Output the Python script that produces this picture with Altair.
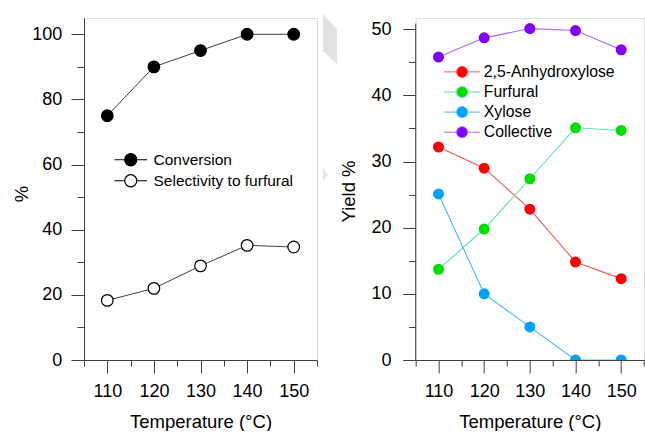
import altair as alt
import pandas as pd

# ---------------- data ----------------
temperature = [110, 120, 130, 140, 150]
conversion = [75.0, 90.0, 95.0, 100.0, 100.0]
selectivity = [18.3, 22.0, 28.9, 35.2, 34.7]

anhydroxylose = [32.2, 29.0, 22.8, 14.8, 12.3]
furfural = [13.7, 19.8, 27.4, 35.1, 34.7]
xylose = [25.1, 10.0, 5.0, 0.0, 0.0]
collective = [45.8, 48.7, 50.1, 49.8, 46.9]

left_names = ["Conversion", "Selectivity to furfural"]
left_fills = ["#000000", "#ffffff"]
right_names = ["2,5-Anhydroxylose", "Furfural", "Xylose", "Collective"]
marker_colors = ["#ff0000", "#00dd00", "#00a2ff", "#8000ff"]
line_colors = ["#ff5555", "#60e0b8", "#4ab8ff", "#a468ff"]

x_ticks = [105, 110, 115, 120, 125, 130, 135, 140, 145, 150, 155]
left_y_ticks = [0, 10, 20, 30, 40, 50, 60, 70, 80, 90, 100]
right_y_ticks = [0, 5, 10, 15, 20, 25, 30, 35, 40, 45, 50]

FONT = "Liberation Sans"
AX = "#404040"
TICK_FS = 18
TITLE_FS = 18.5

left_df = pd.DataFrame({
    "T": temperature * 2,
    "value": conversion + selectivity,
    "series": [left_names[0]] * 5 + [left_names[1]] * 5,
})
right_vals = [anhydroxylose, furfural, xylose, collective]
right_df = pd.DataFrame({
    "T": temperature * 4,
    "value": sum(right_vals, []),
    "series": sum([[n] * 5 for n in right_names], []),
})
deco_df = pd.DataFrame({"k": [0]})


def cond_size(step, major, minor):
    return {"condition": {"test": f"datum.value % {step} == 0", "value": major}, "value": minor}


def x_axis():
    return alt.Axis(
        values=x_ticks, title="Temperature (°C)",
        labelExpr="datum.value % 10 == 0 ? datum.label : ''",
        tickSize=cond_size(10, 13, 6), labelPadding=9, labelBaseline="top",
        labelOverlap=False, labelFlush=False,
        labelFont=FONT, labelFontSize=TICK_FS, labelColor="black",
        titleFont=FONT, titleFontSize=TITLE_FS, titleFontWeight="normal", titleColor="black",
        titleY=67, titleBaseline="alphabetic",
        domainColor=AX, tickColor=AX, domainWidth=1, tickWidth=1, grid=False,
    )


def x_scale():
    return alt.Scale(domain=[105, 155], nice=False, zero=False)


def y_axis(vals, step, title, tx, ty, pad, show_domain=True):
    return alt.Axis(
        values=vals, title=title,
        labelExpr=f"datum.value % {step} == 0 ? datum.label : ''",
        tickSize=cond_size(step, 13, 7), labelPadding=pad,
        labelOverlap=False, labelFlush=False,
        labelFont=FONT, labelFontSize=TICK_FS, labelColor="black",
        titleFont=FONT, titleFontSize=TITLE_FS, titleFontWeight="normal", titleColor="black",
        titleAngle=270, titleAlign="center", titleBaseline="alphabetic",
        titleX=tx, titleY=ty,
        domain=show_domain, domainColor=AX, tickColor=AX, domainWidth=1, tickWidth=1, grid=False,
    )


# ---------------- left panel ----------------
lx = alt.X("T:Q", scale=x_scale(), axis=x_axis())
ly = alt.Y("value:Q", scale=alt.Scale(domain=[0, 105], nice=False),
           axis=y_axis(left_y_ticks, 20, "%", -57, 175.5, 9.3))

left_symbol = "M-2.7,0H-1M1,0H2.7M1,0A1,1,0,1,1,-1,0A1,1,0,1,1,1,0Z"
left_legend = alt.Legend(
    title=None, orient="none", legendX=39, legendY=134, padding=0,
    symbolType=left_symbol, symbolSize=146, symbolStrokeColor="black", symbolStrokeWidth=1.2,
    labelFont=FONT, labelFontSize=15.5, labelColor="black", labelOffset=15, rowPadding=3.0,
)

left_lines = alt.Chart(left_df).mark_line(color=AX, strokeWidth=1).encode(
    x=lx, y=ly, detail="series:N")
left_pts = alt.Chart(left_df).mark_point(
    filled=True, shape="circle", size=135, stroke="black", strokeWidth=1.2, opacity=1
).encode(
    x=lx, y=ly,
    fill=alt.Fill("series:N", scale=alt.Scale(domain=left_names, range=left_fills), legend=left_legend),
)

para_path = "M-0.28,-1L0.28,-0.4L0.28,1L-0.28,0.48Z"
tri_path = "M-0.38,-1L0.38,0L-0.38,1Z"
deco1 = alt.Chart(deco_df).mark_point(
    shape=para_path, size=2500, filled=True, fill="#e2e2e2", opacity=1, strokeWidth=0
).encode(x=alt.value(246), y=alt.value(21))
deco2 = alt.Chart(deco_df).mark_point(
    shape=tri_path, size=169, filled=True, fill="#e6e6e6", opacity=1, strokeWidth=0
).encode(x=alt.value(241.5), y=alt.value(156.5))

left = alt.layer(deco1, deco2, left_lines, left_pts).properties(width=233, height=342)

# ---------------- right panel ----------------
rx = alt.X("T:Q", scale=x_scale(), axis=x_axis())
r_yscale = alt.Scale(domain=[0, 51.7], nice=False)
r_yaxis = y_axis(right_y_ticks, 10, "Yield %", -61, 173, 11.7, show_domain=False)
ry = alt.Y("value:Q", scale=r_yscale, axis=r_yaxis)

right_symbol = "M-3.27,0H-1M1,0H3.27M1,0A1,1,0,1,1,-1,0A1,1,0,1,1,1,0Z"


def right_legend():
    return alt.Legend(
        title=None, orient="none", legendX=38.5, legendY=46, padding=0,
        symbolType=right_symbol, symbolSize=121, symbolStrokeWidth=1,
        labelFont=FONT, labelFontSize=15.8, labelColor="black", labelOffset=13.8, rowPadding=3.1,
    )


right_lines = alt.Chart(right_df).mark_line(strokeWidth=1.1, clip=True).encode(
    x=rx, y=ry,
    stroke=alt.Stroke("series:N", scale=alt.Scale(domain=right_names, range=line_colors),
                      legend=right_legend()),
)
right_pts = alt.Chart(right_df).mark_point(
    filled=True, shape="circle", size=121, opacity=1, clip=True
).encode(
    x=rx, y=ry,
    fill=alt.Fill("series:N", scale=alt.Scale(domain=right_names, range=marker_colors),
                  legend=right_legend()),
)
right_axis_line = alt.Chart(deco_df).mark_rule(color=AX, strokeWidth=1).encode(
    x=alt.X(datum=105, type="quantitative", scale=x_scale(), axis=x_axis()),
    y=alt.Y(datum=0, type="quantitative", scale=r_yscale, axis=r_yaxis),
    y2=alt.datum(50.85),
)

right = alt.layer(right_lines, right_pts, right_axis_line).properties(width=228.3, height=342)

chart = alt.hconcat(left, right, spacing=98.7, bounds="flush").resolve_scale(
    fill="independent", stroke="independent"
).properties(
    padding={"left": 11, "top": 13, "right": 0, "bottom": 0}
).configure_view(stroke=None).configure(background="white", font=FONT)

chart.save("out.html", embed_options={"renderer": "svg", "actions": False})
